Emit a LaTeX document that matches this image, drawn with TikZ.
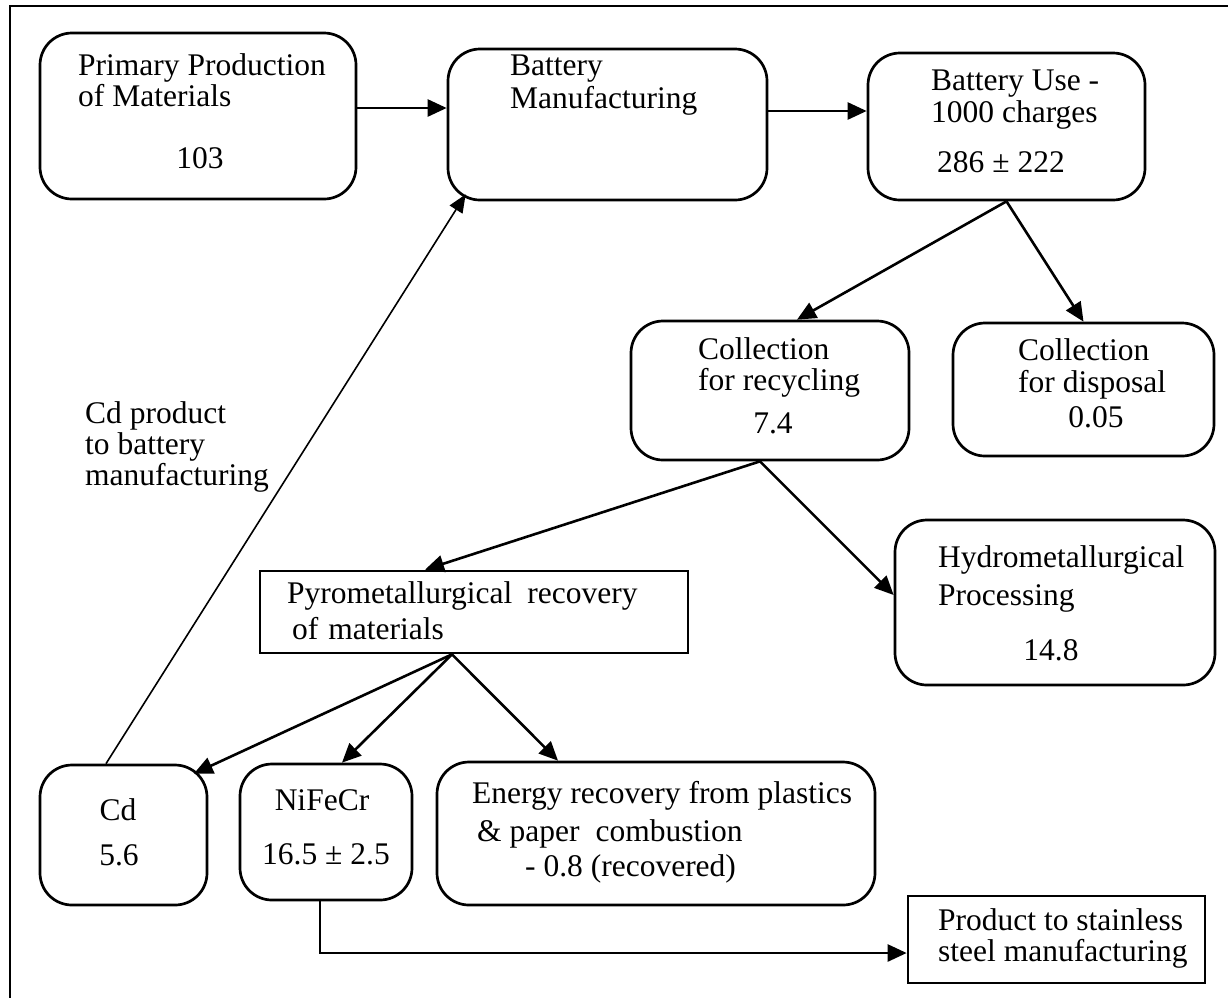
\documentclass[tikz,border=0pt]{standalone}
\usepackage{fontspec}
\setmainfont{Liberation Serif}
\usetikzlibrary{arrows.meta}
\begin{document}
\begin{tikzpicture}[x=1pt,y=-1pt,
  rbox/.style={draw, line width=2.7pt, rounded corners=32pt, inner sep=0pt},
  sbox/.style={draw, line width=2.7pt, inner sep=0pt},
  txt/.style={inner sep=0pt, font=\fontsize{31.5}{32}\selectfont},
  lt/.style={txt, anchor=base west},
  ct/.style={txt, anchor=base},
  arr/.style={line width=2.6pt, -{Triangle[length=19pt,width=17pt]}},
  thinarr/.style={line width=1.6pt, -{Triangle[length=18pt,width=15pt]}},
  border/.style={line width=2.7pt, line join=miter}]
\fill[white] (0,0) rectangle (1228,997);
\useasboundingbox (0,0) rectangle (1228,997);
\draw[border] (10,1000) -- (10,6) -- (1232,6);

% boxes
\node[rbox, minimum width=316pt, minimum height=166pt] (pp) at (198,116) {};
\node[rbox, minimum width=319pt, minimum height=151pt] (bm) at (607.5,124.5) {};
\node[rbox, minimum width=277pt, minimum height=147pt] (bu) at (1006.5,126.5) {};
\node[rbox, minimum width=278pt, minimum height=139pt] (rc) at (770,390.5) {};
\node[rbox, minimum width=261pt, minimum height=133pt] (dp) at (1083.5,389.5) {};
\node[rbox, minimum width=320pt, minimum height=165pt] (hy) at (1055,602.5) {};
\node[sbox, minimum width=428pt, minimum height=82pt] (py) at (474,612) {};
\node[rbox, minimum width=167pt, minimum height=140pt] (cd) at (123.5,835) {};
\node[rbox, minimum width=172pt, minimum height=136pt] (nf) at (326,832) {};
\node[rbox, minimum width=438pt, minimum height=143pt] (en) at (656,833.5) {};
\node[sbox, minimum width=297pt, minimum height=87pt] (pr) at (1056.5,939.5) {};

% texts
\node[lt] (pp1) at (78,75) {Primary Production};
\node[lt] (pp2) at (78,106) {of Materials};
\node[ct] (pp3) at (200,168) {103};
\node[lt] (bm1) at (510,75) {Battery};
\node[lt] (bm2) at (510,108) {Manufacturing};
\node[lt] (bu1) at (931,90) {Battery Use -};
\node[lt] (bu2) at (931,122) {1000 charges};
\node[lt] (bu3) at (937,172) {286 ± 222};
\node[lt] (rc1) at (698,359) {Collection};
\node[lt] (rc2) at (698,390) {for recycling};
\node[ct] (rc3) at (773,433) {7.4};
\node[lt] (dp1) at (1018,360) {Collection};
\node[lt] (dp2) at (1018,392) {for disposal};
\node[ct] (dp3) at (1096,427) {0.05};
\node[lt] (hy1) at (938,567) {Hydrometallurgical};
\node[lt] (hy2) at (938,605) {Processing};
\node[ct] (hy3) at (1051,660) {14.8};
\node[lt] (py1) at (287,603) {Pyrometallurgical\hspace{15pt}recovery};
\node[lt] (py2) at (292,639) {of\hspace{10pt}materials};
\node[ct] (cd1) at (118,820) {Cd};
\node[ct] (cd2) at (119,865) {5.6};
\node[ct] (nf1) at (322,810) {NiFeCr};
\node[ct] (nf2) at (326,864) {16.5 ± 2.5};
\node[lt] (en1) at (472,803) {Energy recovery from plastics};
\node[lt] (en2) at (477,841) {\& paper\hspace{16pt}combustion};
\node[lt] (en3) at (525,876) {- 0.8 (recovered)};
\node[lt] (pr1) at (938,930) {Product to stainless};
\node[lt] (pr2) at (938,961) {steel manufacturing};
\node[lt] (lb1) at (85,423) {Cd product};
\node[lt] (lb2) at (85,454) {to battery};
\node[lt] (lb3) at (85,485) {manufacturing};

% connectors
\draw[arr] (pp.east |- 0,108) -- (bm.west |- 0,108);
\draw[arr] (bm.east |- 0,111) -- (bu.west |- 0,111);
\draw[arr] (bu.south) -- (rc.north -| 797,0);
\draw[arr] (bu.south) -- (dp.north);
\draw[arr] (rc.south -| 760,0) -- (py.north -| 425,0);
\draw[arr] (rc.south -| 760,0) -- (hy.west |- 0,595);
\draw[arr] (py.south -| 452,0) -- ([shift={(-1pt,-10pt)}]cd.45);
\draw[arr] (py.south -| 452,0) -- (nf.north -| 342,0);
\draw[arr] (py.south -| 452,0) -- (en.north -| 558,0);
\draw[arr] (nf.south -| 320,0) |- (pr.west |- 0,953);
\draw[thinarr] (cd.north -| 106,0) -- ([shift={(19pt,7pt)}]bm.south west);
\end{tikzpicture}
\end{document}
